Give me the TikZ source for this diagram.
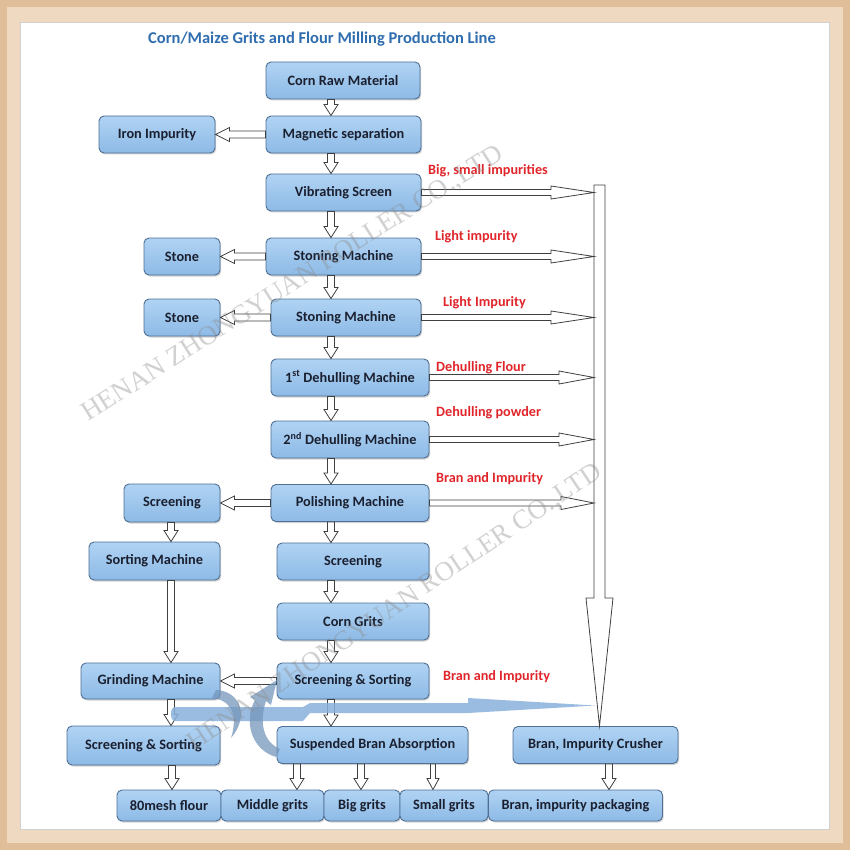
\documentclass[tikz,border=0pt]{standalone}
\usepackage{fontspec}
\setmainfont{Carlito}
\newfontfamily\wmfont{Liberation Serif}
\usetikzlibrary{calc,shadows}

\definecolor{boxtop}{HTML}{B0D3F3}
\definecolor{boxbot}{HTML}{8DBAE6}
\definecolor{boxline}{HTML}{4F6F94}
\definecolor{boxtext}{HTML}{1B2030}
\definecolor{labred}{HTML}{E0262B}
\definecolor{titleblue}{HTML}{2F6DAE}
\definecolor{frameout}{HTML}{E0BE99}
\definecolor{framein}{HTML}{EFDAC1}
\definecolor{bandblue}{HTML}{8AB1DC}

\tikzset{
  box/.style={draw=boxline, line width=0.9pt, rounded corners=5pt, top color=boxtop, bottom color=boxbot,
    text=boxtext, font=\fontsize{14.3}{16}\selectfont\bfseries, inner sep=0pt,
    drop shadow={shadow xshift=1.2pt, shadow yshift=-1.5pt, opacity=0.35}},
  redlabel/.style={text=labred, font=\fontsize{14.2}{16}\selectfont\bfseries, anchor=west, inner sep=0pt},
  blockline/.style={draw=black!75, fill=white, line width=0.8pt, line join=miter},
  wm/.style={text=black!45, opacity=0.4, font=\wmfont\fontsize{27}{30}\selectfont, inner sep=0pt},
}

\newcommand{\blockarrow}[5]{%
  \coordinate (bas) at #4; \coordinate (bae) at #5;
  \coordinate (bah) at ($(bae)!#3!(bas)$);
  \draw[blockline] ($(bas)!#1!90:(bae)$) -- ($(bah)!#1!-90:(bas)$) -- ($(bah)!#2!-90:(bas)$) -- (bae)
    -- ($(bah)!#2!90:(bas)$) -- ($(bah)!#1!90:(bas)$) -- ($(bas)!#1!-90:(bae)$) -- cycle;}

\begin{document}
\begin{tikzpicture}[x=1pt,y=-1pt]
  \useasboundingbox (0,0) rectangle (850,850);
  \fill[frameout] (0,0) rectangle (850,850);
  \fill[framein] (7,7) rectangle (843,843);
  \fill[white] (20,22) rectangle (829,829);
  \draw[black!18] (20,22) rectangle (829,829);

  \node[text=titleblue, font=\fontsize{16.5}{19}\selectfont\bfseries] (TT) at (322,39) {Corn/Maize Grits and Flour Milling Production Line};

  \node[box, minimum width=154, minimum height=37] (N0) at (343,80.5) {Corn Raw Material};
  \node[box, minimum width=155, minimum height=37] (N1) at ($(N0)+(0.5,54)$) {Magnetic separation};
  \node[box, minimum width=116, minimum height=37] (N2) at ($(N1)+(-186.5,0)$) {Iron Impurity};
  \node[box, minimum width=155, minimum height=37] (N3) at ($(N1)+(0,58)$) {Vibrating Screen};
  \node[box, minimum width=155, minimum height=37] (N4) at ($(N3)+(0,64)$) {Stoning Machine};
  \node[box, minimum width=76, minimum height=37] (N5) at ($(N4)+(-161.5,0)$) {Stone};
  \node[box, minimum width=150, minimum height=37] (N6) at ($(N4)+(2.5,61)$) {Stoning Machine};
  \node[box, minimum width=76, minimum height=37] (N7) at ($(N6)+(-164,0)$) {Stone};
  \node[box, minimum width=158, minimum height=37] (N8) at ($(N6)+(4,60)$) {1\textsuperscript{st} Dehulling Machine};
  \node[box, minimum width=158, minimum height=37] (N9) at ($(N8)+(0,62)$) {2\textsuperscript{nd} Dehulling Machine};
  \node[box, minimum width=158, minimum height=37] (N10) at ($(N9)+(0,63.5)$) {Polishing Machine};
  \node[box, minimum width=96, minimum height=38] (N11) at ($(N10)+(-178,0)$) {Screening};
  \node[box, minimum width=152, minimum height=37] (N13) at ($(N10)+(3,58.5)$) {Screening};
  \node[box, minimum width=131, minimum height=38] (N12) at ($(N13)+(-198.5,-0.5)$) {Sorting Machine};
  \node[box, minimum width=152, minimum height=37] (N14) at ($(N13)+(0,60)$) {Corn Grits};
  \node[box, minimum width=152, minimum height=36] (N15) at ($(N14)+(0,59.5)$) {Screening \& Sorting};
  \node[box, minimum width=139, minimum height=36] (N16) at ($(N15)+(-202.5,0)$) {Grinding Machine};
  \node[box, minimum width=153, minimum height=39] (N17) at ($(N16)+(-7,64.5)$) {Screening \& Sorting};
  \node[box, minimum width=191, minimum height=37] (N18) at ($(N15)+(19.5,64)$) {Suspended Bran Absorption};
  \node[box, minimum width=165, minimum height=37] (N19) at ($(N18)+(223,0)$) {Bran, Impurity Crusher};
  \node[box, minimum width=104, minimum height=31] (N20) at (169,805.5) {80mesh flour};
  \node[box, minimum width=103, minimum height=31] (N21) at ($(N20)+(103.5,0)$) {Middle grits};
  \node[box, minimum width=76, minimum height=31] (N22) at ($(N21)+(89.5,0)$) {Big grits};
  \node[box, minimum width=88, minimum height=31] (N23) at ($(N22)+(82,0)$) {Small grits};
  \node[box, minimum width=174, minimum height=31] (N24) at ($(N23)+(131.5,0)$) {Bran, impurity packaging};

  \node[redlabel] (L0) at (428,171) {Big, small impurities};
  \node[redlabel] (L1) at (435,237) {Light impurity};
  \node[redlabel] (L2) at (443,303) {Light Impurity};
  \node[redlabel] (L3) at (436,368) {Dehulling Flour};
  \node[redlabel] (L4) at (436,413) {Dehulling powder};
  \node[redlabel] (L5) at (436,479) {Bran and Impurity};
  \node[redlabel] (L6) at (443,677) {Bran and Impurity};

  \coordinate (C) at (331,0);
  \coordinate (D) at (171,0);
  \coordinate (T) at (599.5,185);
  \coordinate (B) at (594,185);

  \blockarrow{3.5pt}{7pt}{11pt}{(N0.south -| C)}{(N1.north -| C)}
  \blockarrow{3.5pt}{7pt}{11pt}{(N1.south -| C)}{(N3.north -| C)}
  \blockarrow{3.5pt}{7pt}{11pt}{(N3.south -| C)}{(N4.north -| C)}
  \blockarrow{3.5pt}{7pt}{11pt}{(N4.south -| C)}{(N6.north -| C)}
  \blockarrow{3.5pt}{7pt}{11pt}{(N6.south -| C)}{(N8.north -| C)}
  \blockarrow{3.5pt}{7pt}{11pt}{(N8.south -| C)}{(N9.north -| C)}
  \blockarrow{3.5pt}{7pt}{11pt}{(N9.south -| C)}{(N10.north -| C)}
  \blockarrow{3.5pt}{7pt}{11pt}{(N10.south -| C)}{(N13.north -| C)}
  \blockarrow{3.5pt}{7pt}{11pt}{(N13.south -| C)}{(N14.north -| C)}
  \blockarrow{3.5pt}{7pt}{11pt}{(N14.south -| C)}{(N15.north -| C)}
  \blockarrow{3.5pt}{7pt}{11pt}{(N15.south -| C)}{(N18.north -| C)}

  \blockarrow{3.5pt}{7pt}{14pt}{(N1.west)}{(N2.east)}
  \blockarrow{3.5pt}{7pt}{14pt}{(N4.west)}{(N5.east)}
  \blockarrow{3.5pt}{7pt}{14pt}{(N6.west)}{(N7.east)}
  \blockarrow{3.5pt}{7pt}{14pt}{(N10.west)}{(N11.east)}
  \blockarrow{3.5pt}{7pt}{14pt}{(N15.west)}{(N16.east)}

  \blockarrow{3.5pt}{7pt}{11pt}{(N11.south -| D)}{(N12.north -| D)}
  \blockarrow{3.5pt}{7pt}{11pt}{(N12.south -| D)}{(N16.north -| D)}
  \blockarrow{3.5pt}{7pt}{11pt}{(N16.south -| D)}{(N17.north -| D)}

  \blockarrow{3.5pt}{7pt}{11pt}{(N17.south -| 172,0)}{(N20.north -| 172,0)}
  \blockarrow{3.5pt}{7pt}{11pt}{(N18.south -| 297,0)}{(N21.north -| 297,0)}
  \blockarrow{3.5pt}{7pt}{11pt}{(N18.south -| 361,0)}{(N22.north -| 361,0)}
  \blockarrow{2.5pt}{6pt}{11pt}{(N18.south -| 433,0)}{(N23.north -| 433,0)}
  \blockarrow{3.5pt}{7pt}{11pt}{(N19.south -| 609,0)}{(N24.north -| 609,0)}

  \blockarrow{5.5pt}{13.5pt}{128pt}{(T)}{(T |- N19.north)}
  \blockarrow{3pt}{6.5pt}{43pt}{(N3.east)}{(N3.east -| B)}
  \blockarrow{3pt}{6.5pt}{43pt}{(N4.east)}{(N4.east -| B)}
  \blockarrow{3pt}{6.5pt}{43pt}{(N6.east)}{(N6.east -| B)}
  \blockarrow{3pt}{6.5pt}{35pt}{(N8.east)}{(N8.east -| B)}
  \blockarrow{3pt}{6.5pt}{35pt}{(N9.east)}{(N9.east -| B)}
  \blockarrow{3pt}{6.5pt}{33pt}{(N10.east)}{(N10.east -| B)}

  \fill[bandblue, opacity=0.85] (175,707) -- (303,707) -- (310,703) -- (468,703) -- (468,698) -- (595,705.5)
    -- (468,713) -- (310,713) -- (303,721) -- (175,721) to[out=180,in=180] cycle;
  \fill[bandblue!85!black, opacity=0.75] (216,690) .. controls (240,691) and (250,716) .. (231,738)
    .. controls (238,716) and (232,700) .. (212,698) -- cycle;
  \fill[bandblue!85!black, opacity=0.75] (276,757) .. controls (252,750) and (243,722) .. (255,700)
    -- (250,697) -- (277,680) -- (271,705) -- (266,701) .. controls (259,722) and (263,742) .. (280,749) -- cycle;

  \node[wm, rotate=32.4] (W0) at (293,284) {HENAN ZHONGYUAN ROLLER CO.,LTD};
  \node[wm, rotate=34] (W1) at (395,608) {HENAN ZHONGYUAN ROLLER CO.,LTD};
\end{tikzpicture}
\end{document}
